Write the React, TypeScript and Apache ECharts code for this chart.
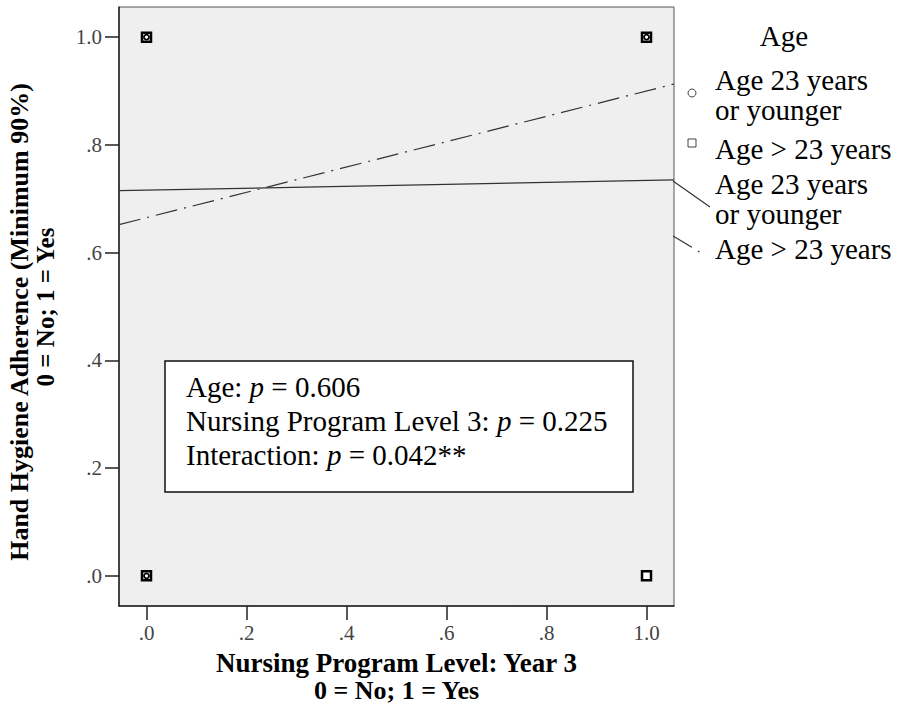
import React, { useEffect, useRef } from "react";
import * as echarts from "echarts";

// ---- data ----
const tickValues = [0, 0.2, 0.4, 0.6, 0.8, 1.0];
const xMin = -0.055;
const xMax = 1.055;
const yMin = -0.056;
const yMax = 1.056;

const xTitleLines = ["Nursing Program Level: Year 3", "0 = No; 1 = Yes"];
const yTitleLines = ["Hand Hygiene Adherence (Minimum 90%)", "0 = No; 1 = Yes"];

const legendTitle = "Age";
const groupYoung = "Age 23 years\nor younger";
const groupOlder = "Age > 23 years";

// observed points (x = program level, y = adherence)
const youngPoints = [
  [0, 1],
  [1, 1],
  [0, 0],
];
const olderPoints = [
  [0, 1],
  [1, 1],
  [0, 0],
  [1, 0],
];

// fit lines (endpoints read at plot edges)
const youngFitX = [-0.055, 1.055];
const youngFitY = [0.715, 0.735];
const olderFitX = [-0.055, 1.055];
const olderFitY = [0.652, 0.913];

const statLabels = ["Age", "Nursing Program Level 3", "Interaction"];
const statPValues = ["0.606", "0.225", "0.042**"];

const SERIF = "'Liberation Serif', 'Times New Roman', serif";

export default function App() {
  const ref = useRef<HTMLDivElement>(null);

  useEffect(() => {
    if (!ref.current) return;
    const chart = echarts.init(ref.current, undefined, { renderer: "svg" });

    const fmt = (v: number) => (v === 1 ? "1.0" : v.toFixed(1).replace(/^0/, ""));

    const annotationText = statLabels
      .map((l, i) => `${l}: {i|p} = ${statPValues[i]}`)
      .join("\n");

    const axisCommon = {
      type: "value",
      splitLine: { show: false },
      axisLine: { show: true, onZero: false, lineStyle: { color: "#222", width: 1.5 } },
      axisTick: {
        show: true,
        customValues: tickValues,
        length: 14,
        lineStyle: { color: "#222", width: 1.5 },
      },
    };

    const textStyleBase = {
      fontFamily: SERIF,
      fill: "#000",
    };

    const option: any = {
      animation: false,
      backgroundColor: "#ffffff",
      grid: {
        left: 119,
        right: 226,
        top: 7,
        bottom: 111,
        show: true,
        backgroundColor: "#efefef",
        borderColor: "#555",
        borderWidth: 1,
      },
      xAxis: {
        ...axisCommon,
        min: xMin,
        max: xMax,
        axisLabel: {
          customValues: tickValues,
          formatter: fmt,
          margin: 16,
          fontFamily: SERIF,
          fontSize: 21,
          color: "#444",
        },
      },
      yAxis: {
        ...axisCommon,
        min: yMin,
        max: yMax,
        axisLabel: {
          customValues: tickValues,
          formatter: fmt,
          margin: 17,
          fontFamily: SERIF,
          fontSize: 21,
          color: "#444",
        },
      },
      series: [
        {
          name: "Age 23 years or younger fit",
          type: "line",
          data: youngFitX.map((x, i) => [x, youngFitY[i]]),
          showSymbol: false,
          lineStyle: { color: "#333", width: 1.2 },
          z: 2,
        },
        {
          name: "Age > 23 years fit",
          type: "line",
          data: olderFitX.map((x, i) => [x, olderFitY[i]]),
          showSymbol: false,
          lineStyle: { color: "#333", width: 1.2, type: [22, 7, 2, 7] },
          z: 2,
        },
        {
          name: groupOlder,
          type: "scatter",
          data: olderPoints,
          symbol: "rect",
          symbolSize: 9,
          itemStyle: { color: "#fff", borderColor: "#000", borderWidth: 2.5, opacity: 1 },
          z: 3,
        },
        {
          name: groupYoung,
          type: "scatter",
          data: youngPoints,
          symbol: "circle",
          symbolSize: 5,
          itemStyle: { color: "#fff", borderColor: "#000", borderWidth: 1.8, opacity: 1 },
          z: 4,
        },
      ],
      graphic: [
        // axis titles
        {
          type: "text",
          x: 396.5,
          y: 663,
          style: {
            ...textStyleBase,
            text: xTitleLines[0],
            fontSize: 27,
            fontWeight: "bold",
            align: "center",
            verticalAlign: "middle",
          },
        },
        {
          type: "text",
          x: 396.5,
          y: 690,
          style: {
            ...textStyleBase,
            text: xTitleLines[1],
            fontSize: 26,
            fontWeight: "bold",
            align: "center",
            verticalAlign: "middle",
          },
        },
        {
          type: "text",
          x: 19,
          y: 322,
          rotation: Math.PI / 2,
          style: {
            ...textStyleBase,
            text: yTitleLines[0],
            fontSize: 26,
            fontWeight: "bold",
            align: "center",
            verticalAlign: "middle",
          },
        },
        {
          type: "text",
          x: 45,
          y: 307,
          rotation: Math.PI / 2,
          style: {
            ...textStyleBase,
            text: yTitleLines[1],
            fontSize: 25,
            fontWeight: "bold",
            align: "center",
            verticalAlign: "middle",
          },
        },
        // annotation box
        {
          type: "rect",
          shape: { x: 165, y: 361, width: 468, height: 131 },
          style: { fill: "#fff", stroke: "#111", lineWidth: 1.5 },
          z: 10,
        },
        {
          type: "text",
          x: 186,
          y: 370,
          style: {
            ...textStyleBase,
            text: annotationText,
            fontSize: 29,
            lineHeight: 34,
            align: "left",
            verticalAlign: "top",
            rich: {
              i: { fontStyle: "italic", fontFamily: SERIF, fontSize: 29, lineHeight: 34 },
            },
          },
          z: 11,
        },
        // legend
        {
          type: "text",
          x: 784,
          y: 36,
          style: {
            ...textStyleBase,
            text: legendTitle,
            fontSize: 29,
            align: "center",
            verticalAlign: "middle",
          },
        },
        {
          type: "circle",
          shape: { cx: 692, cy: 93, r: 4 },
          style: { fill: "none", stroke: "#444", lineWidth: 1 },
        },
        {
          type: "text",
          x: 715,
          y: 95,
          style: {
            ...textStyleBase,
            text: groupYoung,
            fontSize: 29,
            lineHeight: 30,
            align: "left",
            verticalAlign: "middle",
          },
        },
        {
          type: "rect",
          shape: { x: 688, y: 139, width: 8, height: 8 },
          style: { fill: "none", stroke: "#444", lineWidth: 1 },
        },
        {
          type: "text",
          x: 715,
          y: 149,
          style: {
            ...textStyleBase,
            text: groupOlder,
            fontSize: 29,
            align: "left",
            verticalAlign: "middle",
          },
        },
        {
          type: "line",
          shape: { x1: 673, y1: 181, x2: 710, y2: 207 },
          style: { stroke: "#333", lineWidth: 1.2 },
        },
        {
          type: "text",
          x: 715,
          y: 199,
          style: {
            ...textStyleBase,
            text: groupYoung,
            fontSize: 29,
            lineHeight: 30,
            align: "left",
            verticalAlign: "middle",
          },
        },
        {
          type: "line",
          shape: { x1: 673, y1: 236, x2: 703, y2: 254 },
          style: { stroke: "#333", lineWidth: 1.2, lineDash: [22, 7, 2, 7] },
        },
        {
          type: "text",
          x: 715,
          y: 249,
          style: {
            ...textStyleBase,
            text: groupOlder,
            fontSize: 29,
            align: "left",
            verticalAlign: "middle",
          },
        },
      ],
    };

    chart.setOption(option);
    return () => chart.dispose();
  }, []);

  return (
    <div
      ref={ref}
      style={{ position: "absolute", left: 0, top: 0, width: 900, height: 717 }}
    />
  );
}
